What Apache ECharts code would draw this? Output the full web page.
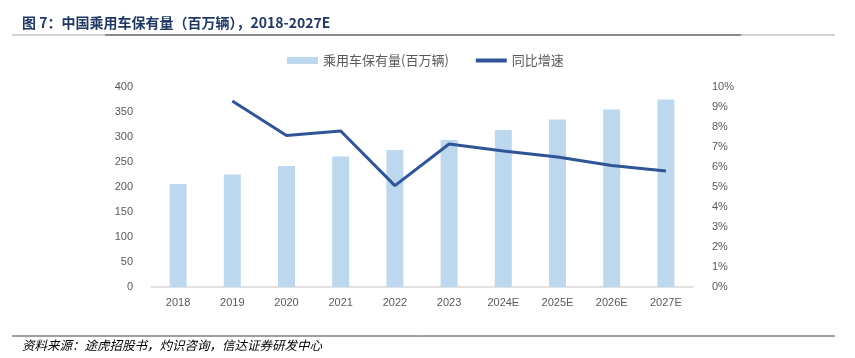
<!DOCTYPE html>
<html><head><meta charset="utf-8">
<script src="https://cdn.jsdelivr.net/npm/echarts@6/dist/echarts.min.js"></script>
<style>html,body{margin:0;padding:0;background:#fff}#c{width:855px;height:358px}</style>
</head><body><div id="c"></div>
<script>
const categories = ['2018','2019','2020','2021','2022','2023','2024E','2025E','2026E','2027E'];
const stockValues = [206, 225, 242, 261, 274, 294, 314, 335, 355, 375];
const growthValues = [null, 0.093, 0.0757, 0.078, 0.0507, 0.0715, 0.068, 0.065, 0.0607, 0.058];
const leftTicks = [0, 400, 50];
const rightTicks = [0, 0.10, 0.01];

const chart = echarts.init(document.getElementById('c'), null, {renderer:'canvas'});
const font = '"Noto Sans CJK SC", "Liberation Sans", sans-serif';
chart.setOption({
  animation:false,
  textStyle:{fontFamily:font},
  graphic:[
    {type:'text', left:22, top:16, style:{text:'图 7：中国乘用车保有量（百万辆），2018-2027E', fill:'#1F3864', font:'bold 14px "Noto Sans CJK SC", sans-serif'}},
    {type:'line', shape:{x1:12,y1:35,x2:835,y2:35}, style:{stroke:'#A6A6A6', lineWidth:1}},
    {type:'line', shape:{x1:105,y1:35,x2:741,y2:35}, style:{stroke:'#8C8C8C', lineWidth:2}},
    {type:'line', shape:{x1:12,y1:336,x2:835,y2:336}, style:{stroke:'#404040', lineWidth:1}},
    {type:'text', left:22, top:339, style:{text:'资料来源：途虎招股书，灼识咨询，信达证券研发中心', fill:'#000', font:'italic 12.5px "Noto Sans CJK SC", sans-serif'}}
  ],
  legend:{
    top:49, left:282, itemGap:27, itemWidth:31, itemHeight:7,
    textStyle:{color:'#595959', fontSize:13, fontFamily:font},
    data:[{name:'乘用车保有量(百万辆)', icon:'rect'}, {name:'同比增速', icon:'path://M0,0 L31,0 L31,4 L0,4 Z'}]
  },
  grid:{left:151, right:162, top:87, bottom:71},
  xAxis:{type:'category', data:categories,
    axisLine:{lineStyle:{color:'#D9D9D9', width:1.5}}, axisTick:{show:false},
    axisLabel:{color:'#595959', fontSize:11, margin:10, fontFamily:'"Liberation Sans", sans-serif'}},
  yAxis:[
    {type:'value', min:leftTicks[0], max:leftTicks[1], interval:leftTicks[2], splitLine:{show:false},
     axisLabel:{color:'#595959', fontSize:11, margin:18, fontFamily:'"Liberation Sans", sans-serif'}},
    {type:'value', min:rightTicks[0], max:rightTicks[1], interval:rightTicks[2], splitLine:{show:false},
     axisLabel:{color:'#595959', fontSize:11, margin:19, fontFamily:'"Liberation Sans", sans-serif', formatter:v=>Math.round(v*100)+'%'}}
  ],
  series:[
    {name:'乘用车保有量(百万辆)', type:'bar', data:stockValues, barWidth:17, itemStyle:{color:'#BDD7EE'}},
    {name:'同比增速', type:'line', yAxisIndex:1, data:growthValues, symbol:'none', lineStyle:{color:'#2F5597', width:3}, itemStyle:{color:'#2F5597'}}
  ]
});
</script></body></html>
